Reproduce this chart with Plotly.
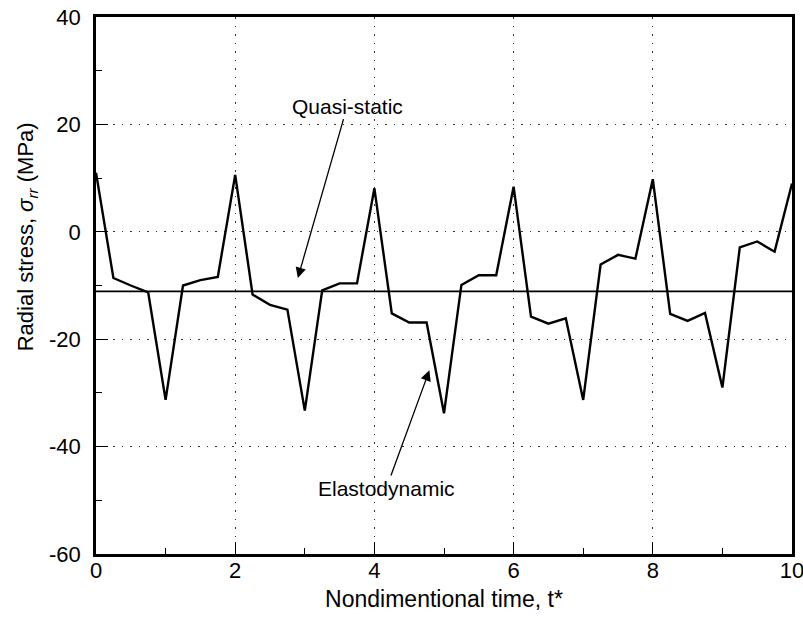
import plotly.graph_objects as go

# Nondimensional time samples
t_star = [0.0, 0.25, 0.5, 0.75, 1.0, 1.25, 1.5, 1.75, 2.0, 2.25, 2.5, 2.75,
          3.0, 3.25, 3.5, 3.75, 4.0, 4.25, 4.5, 4.75, 5.0, 5.25, 5.5, 5.75,
          6.0, 6.25, 6.5, 6.75, 7.0, 7.25, 7.5, 7.75, 8.0, 8.25, 8.5, 8.75,
          9.0, 9.25, 9.5, 9.75, 10.0]

# Radial stress (MPa), elastodynamic solution
sigma_elastodynamic = [11.0, -8.6, -10.0, -11.3, -31.3, -10.0, -9.0, -8.4,
                       10.6, -11.7, -13.6, -14.5, -33.3, -10.9, -9.6, -9.6,
                       8.1, -15.2, -16.9, -16.9, -33.8, -9.9, -8.1, -8.1,
                       8.4, -15.8, -17.1, -16.1, -31.3, -6.1, -4.3, -5.0,
                       9.8, -15.3, -16.6, -15.1, -29.0, -2.9, -1.8, -3.7, 9.0]

# Radial stress (MPa), quasi-static solution (constant)
t_quasi = [0.0, 10.0]
sigma_quasi = [-11.1, -11.1]

x_ticks = [0, 2, 4, 6, 8, 10]
y_ticks = [40, 20, 0, -20, -40, -60]

FONT = "Arial, Liberation Sans, Helvetica, sans-serif"

fig = go.Figure()
fig.add_trace(go.Scatter(x=t_quasi, y=sigma_quasi, mode="lines",
                         line=dict(color="black", width=1.8),
                         showlegend=False, hoverinfo="skip"))
fig.add_trace(go.Scatter(x=t_star, y=sigma_elastodynamic, mode="lines",
                         line=dict(color="black", width=2.4),
                         showlegend=False))

# Curve labels, each with an arrow pointing at its curve
fig.add_annotation(x=2.90, y=-8.6, ax=3.61, ay=23.4, xref="x", yref="y",
                   axref="x", ayref="y", text="Quasi-static",
                   showarrow=True, arrowhead=2, arrowsize=1.6,
                   arrowwidth=1.3, arrowcolor="black", standoff=0,
                   font=dict(family=FONT, size=21, color="black"))
fig.add_annotation(x=4.79, y=-25.8, ax=4.17, ay=-47.8, xref="x", yref="y",
                   axref="x", ayref="y", text="Elastodynamic",
                   showarrow=True, arrowhead=2, arrowsize=1.6,
                   arrowwidth=1.3, arrowcolor="black", standoff=0,
                   font=dict(family=FONT, size=21, color="black"))

# Vertical axis title, placed a little above the axis centre
fig.add_annotation(x=-0.099, y=0.59, xref="paper", yref="paper",
                   text="Radial stress, <i>σ</i><sub><i>rr</i></sub> (MPa)",
                   textangle=-90, showarrow=False,
                   xanchor="center", yanchor="middle",
                   font=dict(family=FONT, size=22, color="black"))

grid_dash = "1.5px,7px"

fig.update_xaxes(
    range=[0, 10], tickvals=x_ticks, ticktext=[str(v) for v in x_ticks],
    ticks="inside", ticklen=12, tickwidth=1.2, tickcolor="black",
    minor=dict(dtick=1, ticks="inside", ticklen=6, tickwidth=1.2,
               tickcolor="black", showgrid=False),
    showline=True, linecolor="black", linewidth=2.5, mirror=True,
    showgrid=True, gridcolor="#333", griddash=grid_dash, gridwidth=1.2,
    zeroline=False, automargin=False, ticklabeloverflow="allow",
    tickfont=dict(family=FONT, size=22, color="black"),
    ticklabelstandoff=-5,
    title=dict(text="Nondimentional time, t*", standoff=9,
               font=dict(family=FONT, size=23, color="black")),
)
fig.update_yaxes(
    range=[-60, 40], tickvals=y_ticks, ticktext=[str(v) for v in y_ticks],
    ticks="inside", ticklen=12, tickwidth=1.2, tickcolor="black",
    minor=dict(dtick=10, ticks="inside", ticklen=6, tickwidth=1.2,
               tickcolor="black", showgrid=False),
    showline=True, linecolor="black", linewidth=2.5, mirror=True,
    showgrid=True, gridcolor="#333", griddash=grid_dash, gridwidth=1.2,
    zeroline=False, automargin=False, ticklabeloverflow="allow",
    tickfont=dict(family=FONT, size=22, color="black"),
    ticklabelstandoff=8,
)

fig.update_layout(
    width=803, height=621,
    margin=dict(l=96, r=11, t=17, b=67),
    paper_bgcolor="white", plot_bgcolor="white",
    font=dict(family=FONT, color="black"),
)

fig.write_html("out.html")
